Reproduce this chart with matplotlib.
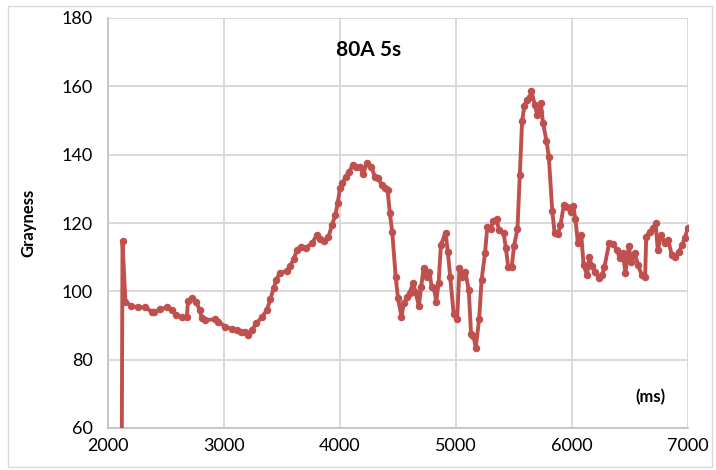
import matplotlib
matplotlib.use("Agg")
import matplotlib.pyplot as plt
from matplotlib.patches import Rectangle

# Time (ms) and measured grayness
time_ms = [
    2115, 2125, 2150, 2200, 2260, 2320, 2380, 2400, 2450, 2510, 2550, 2590,
    2640, 2680, 2690, 2720, 2760, 2790, 2810, 2840, 2920, 2950, 3010, 3070,
    3110, 3150, 3180, 3210, 3240, 3280, 3330, 3370, 3400, 3430, 3450, 3480,
    3540, 3570, 3600, 3630, 3660, 3710, 3760, 3800, 3830, 3860, 3900, 3930,
    3960, 3980, 4000, 4020, 4050, 4080, 4110, 4140, 4170, 4200, 4230, 4270,
    4300, 4330, 4360, 4390, 4410, 4430, 4450, 4480, 4500, 4530, 4550, 4580,
    4600, 4630, 4650, 4680, 4700, 4720, 4750, 4770, 4790, 4810, 4830, 4850,
    4870, 4910, 4930, 4950, 4980, 5010, 5030, 5050, 5080, 5110, 5130, 5150,
    5170, 5200, 5220, 5250, 5270, 5300, 5320, 5350, 5370, 5410, 5430, 5450,
    5480, 5500, 5530, 5550, 5570, 5590, 5610, 5640, 5650, 5680, 5700, 5720,
    5730, 5750, 5780, 5800, 5830, 5850, 5880, 5900, 5930, 5960, 5990, 6010,
    6030, 6050, 6080, 6100, 6130, 6150, 6170, 6200, 6230, 6260, 6280, 6320,
    6350, 6390, 6410, 6440, 6460, 6490, 6510, 6540, 6570, 6600, 6630, 6640,
    6670, 6700, 6720, 6740, 6770, 6800, 6830, 6860, 6890, 6920, 6950, 6970,
    7000,
]
grayness = [
    20.0, 114.7, 97.0, 95.7, 95.3, 95.3, 94.0, 94.0, 94.7, 95.3, 94.5, 93.0,
    92.4, 92.6, 97.3, 98.0, 97.0, 94.5, 92.1, 91.6, 91.8, 91.1, 89.7, 88.9,
    88.7, 88.0, 88.2, 87.2, 88.7, 90.6, 92.6, 94.5, 97.8, 101.0, 103.3, 105.3,
    106.0, 107.4, 109.4, 112.1, 113.1, 112.8, 114.1, 116.5, 115.2, 114.8, 115.8, 119.4,
    122.3, 125.8, 130.2, 131.6, 133.6, 135.0, 137.0, 136.5, 136.5, 134.3, 137.5, 136.5,
    133.6, 133.1, 131.1, 130.2, 129.7, 122.8, 117.5, 104.3, 98.0, 92.6, 96.5, 98.4,
    99.6, 102.4, 99.9, 95.7, 101.4, 106.7, 104.3, 105.8, 101.4, 100.9, 97.0, 102.4,
    113.6, 117.2, 111.4, 104.3, 93.4, 92.0, 106.7, 104.3, 105.8, 100.3, 87.5, 87.0,
    83.5, 92.0, 103.2, 111.1, 118.9, 118.3, 120.7, 121.1, 118.0, 117.2, 112.6, 107.2,
    107.0, 113.2, 118.3, 134.1, 149.9, 154.3, 156.0, 156.8, 158.7, 154.5, 151.6, 152.6,
    155.2, 149.4, 144.0, 139.4, 123.5, 117.0, 116.8, 119.4, 125.3, 124.8, 123.3, 125.0,
    121.1, 114.2, 116.5, 107.7, 104.8, 110.1, 107.4, 105.8, 103.8, 104.8, 107.2, 114.1,
    113.9, 112.1, 109.7, 111.1, 105.3, 113.3, 108.7, 111.1, 107.7, 104.8, 104.1, 116.0,
    117.5, 118.4, 119.9, 112.1, 116.5, 114.1, 115.0, 110.6, 110.1, 111.6, 113.6, 115.5,
    118.4,
]

x_ticks = [2000, 3000, 4000, 5000, 6000, 7000]
y_ticks = [60, 80, 100, 120, 140, 160, 180]

LINE_COLOR = "#C0504D"
GRID_COLOR = "#D9D9D9"
FONT = ["Lato", "DejaVu Sans"]

plt.rcParams["font.family"] = FONT

fig = plt.figure(figsize=(7.16, 4.70), dpi=100)
ax = fig.add_axes([108 / 716, 1 - 428 / 470, (688 - 108) / 716, (428 - 18) / 470])

ax.plot(time_ms, grayness, color=LINE_COLOR, lw=2.8, marker="o", ms=5.4,
        markeredgewidth=0, clip_on=True, zorder=3)

ax.set_xlim(2000, 7000)
ax.set_ylim(60, 180)
ax.set_xticks(x_ticks)
ax.set_yticks(y_ticks)
ax.tick_params(axis="x", length=0, labelsize=13, colors="black", pad=7)
ax.tick_params(axis="y", length=0, labelsize=13, colors="black", pad=11)
ax.grid(True, color=GRID_COLOR, lw=1.4, zorder=0)
ax.set_axisbelow(True)

for side in ("top", "right"):
    ax.spines[side].set_visible(False)
for side in ("left", "bottom"):
    ax.spines[side].set_color("#BFBFBF")
    ax.spines[side].set_linewidth(1.2)

ax.set_ylabel("Grayness", fontsize=12, fontweight="bold", labelpad=18)
ax.text(4250, 170.5, "80A 5s", fontsize=15, fontweight="bold",
        ha="center", va="center")
ax.text(6680, 69, "(ms)", fontsize=12, fontweight="bold",
        ha="center", va="center")

# Light frame around the whole chart
fig.patches.append(Rectangle((8 / 716, 3 / 470), 704 / 716, 461 / 470,
                             transform=fig.transFigure, fill=False,
                             edgecolor="#D9D9D9", lw=1.0))

fig.savefig("out.png", dpi=100)
